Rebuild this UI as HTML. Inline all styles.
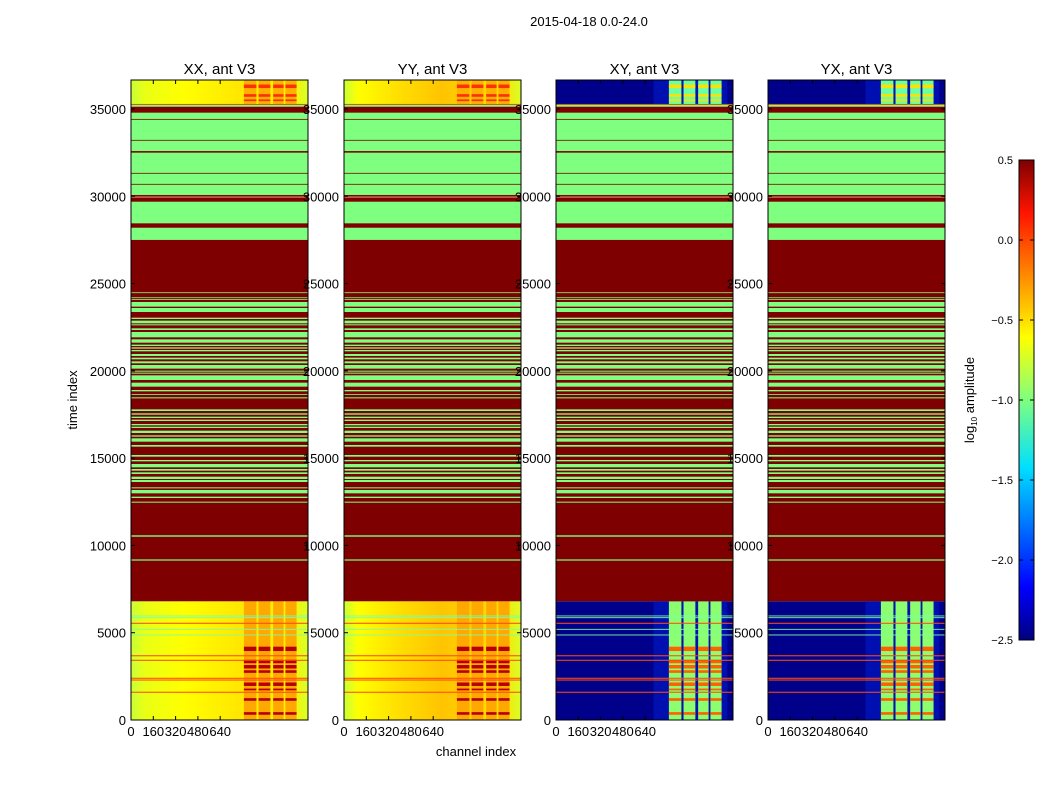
<!DOCTYPE html>
<html><head><meta charset="utf-8"><style>
html,body{margin:0;padding:0;background:#fff;}
svg{display:block;font-family:"Liberation Sans","DejaVu Sans",sans-serif;}
</style></head><body>
<svg id="fig" width="1050" height="800" viewBox="0 0 1050 800" xmlns="http://www.w3.org/2000/svg">
<defs>
<linearGradient id="gXX" x1="0" x2="1" y1="0" y2="0">
<stop offset="0" stop-color="#c8ff38"/><stop offset="0.08" stop-color="#eaff14"/><stop offset="0.3" stop-color="#ffff00"/><stop offset="0.6" stop-color="#ffe800"/><stop offset="0.9" stop-color="#fff000"/><stop offset="1" stop-color="#d8ff28"/>
</linearGradient>
<linearGradient id="gYY" x1="0" x2="1" y1="0" y2="0">
<stop offset="0" stop-color="#c8ff38"/><stop offset="0.08" stop-color="#ffff00"/><stop offset="0.3" stop-color="#ffe000"/><stop offset="0.55" stop-color="#ffc400"/><stop offset="0.9" stop-color="#ffe000"/><stop offset="1" stop-color="#d8ff28"/>
</linearGradient>
<linearGradient id="gCB" x1="0" x2="0" y1="1" y2="0">
<stop offset="0" stop-color="#00007f"/><stop offset="0.11" stop-color="#0000ff"/><stop offset="0.36" stop-color="#00e0ff"/><stop offset="0.5" stop-color="#7fff7f"/><stop offset="0.63" stop-color="#ffff00"/><stop offset="0.89" stop-color="#ff1400"/><stop offset="1" stop-color="#7f0000"/>
</linearGradient>
</defs>
<text x="589" y="26" font-size="13" text-anchor="middle">2015-04-18 0.0-24.0</text>
<g id="panels"></g>
<text x="77" y="400" font-size="13" text-anchor="middle" transform="rotate(-90 77 400)">time index</text>
<text x="476" y="756" font-size="13" text-anchor="middle">channel index</text>
<g>
<rect x="1019" y="160" width="15" height="480" fill="url(#gCB)" stroke="#000" stroke-width="1"/>
<text x="974" y="400" font-size="13" text-anchor="middle" transform="rotate(-90 974 400)">log<tspan font-size="8" dy="3">10</tspan><tspan dy="-3"> amplitude</tspan></text>
<g id="cbticks"></g>
</g>
</svg>
<script>
const titles = ["XX, ant V3","YY, ant V3","XY, ant V3","YX, ant V3"];
const panelLeft = [131, 344, 556, 768];
const yTicks = [0,5000,10000,15000,20000,25000,30000,35000];
const xTicks = [0,160,320,480,640];
const cbTicks = [0.5,0.0,-0.5,-1.0,-1.5,-2.0,-2.5];
const midRange = [6800, 35270];
const greenUpper = [[27500,34790],[35130,35240]];
const redLines = [[28200,28450],[29690,30075],[30670,30710],[31300,31340],[32500,32590],[33190,33230],[34390,34430]];
const lightLines = [[29940,29980]];
const greenStripes = [[24460,24499],[24174,24212],[24079,24117],[23678,23945],[23372,23601],[22971,23047],[22723,22876],[22608,22666],[22341,22436],[21921,22226],[21615,21806],[21424,21501],[21272,21348],[21119,21195],[20851,20966],[20660,20756],[20431,20546],[20126,20336],[19954,20011],[19839,19897],[19477,19744],[19095,19324],[18827,18904],[18637,18675],[18426,18484],[17701,17796],[17491,17567],[17300,17376],[17128,17205],[16880,16956],[16727,16803],[16440,16574],[16231,16307],[15944,16135],[15658,15753],[15085,15180],[14818,14894],[14474,14665],[14283,14378],[14092,14187],[13805,13939],[13633,13748],[13271,13328],[12984,13175],[12717,12793],[12449,12507],[10500,10580],[9130,9200]];
const lowGreenLines = [5960,5860,5195,4870];
const lowOrangeLines = [5540,3680,3420,2390,2290,1590];
const hotColumns = [[810,900],[915,1000],[1020,1095],[1108,1188]];
const hotRowsLow = [[3950,4200],[3250,3450],[2950,3150],[2700,2850],[1950,2150],[1700,1800],[1100,1250],[300,450]];
const hotRowsTop = [[36200,36400],[35700,35850],[35450,35550]];
const X_MAX = 1270, Y_MAX = 36660;
const W = 177, Y0 = 720, KY = 611/35000;
const NS = "http://www.w3.org/2000/svg";
const root = document.getElementById('panels');
function el(tag, attrs, parent){const e=document.createElementNS(NS,tag);for(const k in attrs)e.setAttribute(k,attrs[k]);(parent||root).appendChild(e);return e;}
function yv(v){return Y0 - v*KY;}

titles.forEach((t,i)=>{
  const L = panelLeft[i];
  const xs = c => L + c/X_MAX*W;
  const cross = i>=2;
  const g = el('g',{});
  
  
  function band(a,b,fill,name){
    const r = el('rect',{x:L,y:yv(b),width:W,height:Math.max(0.8,yv(a)-yv(b)),fill:fill},g);
    
    
  }
  function block(c0,c1,a,b,fill,name){
    const r = el('rect',{x:xs(c0),y:yv(b),width:xs(c1)-xs(c0),height:Math.max(0.8,yv(a)-yv(b)),fill:fill},g);
    
    
  }
  const bg = cross ? '#00008a' : (i===0?'url(#gXX)':'url(#gYY)');
  band(0, midRange[0], bg, 'low-region');
  band(midRange[1], Y_MAX, bg, 'top-region');
  if (cross) {
    block(700, 1230, 0, midRange[0], '#0010b0', 'noise-halo');
    block(700, 1230, midRange[1], Y_MAX, '#0010b0', 'noise-halo-top');
  }
  hotColumns.forEach(c=>{
    block(c[0],c[1],0,midRange[0], cross?'#8cff70':'#ffa800','hot-column');
    block(c[0],c[1],midRange[1],Y_MAX, cross?'#70ffa0':'#ffb000','hot-column-top');
    hotRowsLow.forEach(h=>block(c[0],c[1],h[0],h[1], cross?'#ff6000':'#b80000','hot-cell'));
    hotRowsTop.forEach(h=>block(c[0],c[1],h[0],h[1], cross?'#ffe000':'#ff3000','hot-cell-top'));
  });
  band(midRange[0], midRange[1], '#7f0000', 'flagged-region');
  greenUpper.forEach(b=>band(b[0],b[1],'#7fff7f','green-band'));
  redLines.forEach(b=>band(b[0],b[1],'#7f0000','red-line'));
  lightLines.forEach(b=>band(b[0],b[1],'#ffd0a0','light-line'));
  greenStripes.forEach(b=>band(b[0],b[1],'#7fff7f','green-stripe'));
  band(35250,35290,'#ff5a00','orange-line');
  lowGreenLines.forEach(v=>band(v-25,v+25,'#7fff9f','green-line'));
  lowOrangeLines.forEach(v=>band(v-30,v+30,'#ff4a10','orange-line'));
  el('rect',{x:L,y:80,width:W,height:640,fill:'none',stroke:'#000','stroke-width':1},g);
  const tt = el('text',{x:L+W/2,y:74,'font-size':15,'text-anchor':'middle'},g);
  tt.textContent = t;
  
  
  yTicks.forEach(v=>{
    const y = yv(v);
    el('line',{x1:L,x2:L+4,y1:y,y2:y,stroke:'#000'},g);
    el('line',{x1:L+W-4,x2:L+W,y1:y,y2:y,stroke:'#000'},g);
    const tx = el('text',{x:L-5,y:y+5,'font-size':13,'text-anchor':'end'},g);
    tx.textContent = v;
    
    
  });
  xTicks.forEach(c=>{
    const x = xs(c);
    el('line',{x1:x,x2:x,y1:720,y2:716,stroke:'#000'},g);
    el('line',{x1:x,x2:x,y1:80,y2:84,stroke:'#000'},g);
    const tx = el('text',{x:x,y:736,'font-size':13,'text-anchor':'middle'},g);
    tx.textContent = c;
    
    
  });
});
const cb = document.getElementById('cbticks');
cbTicks.forEach(v=>{
  const y = 160 + (0.5 - v)/3*480;
  el('line',{x1:1019,x2:1023,y1:y,y2:y,stroke:'#000'},cb);
  el('line',{x1:1030,x2:1034,y1:y,y2:y,stroke:'#000'},cb);
  const t = el('text',{x:1013,y:y+4,'font-size':11,'text-anchor':'end'},cb);
  t.textContent = (v<0?'\u2212':'') + Math.abs(v).toFixed(1);
  
  
});
</script>
</body></html>
